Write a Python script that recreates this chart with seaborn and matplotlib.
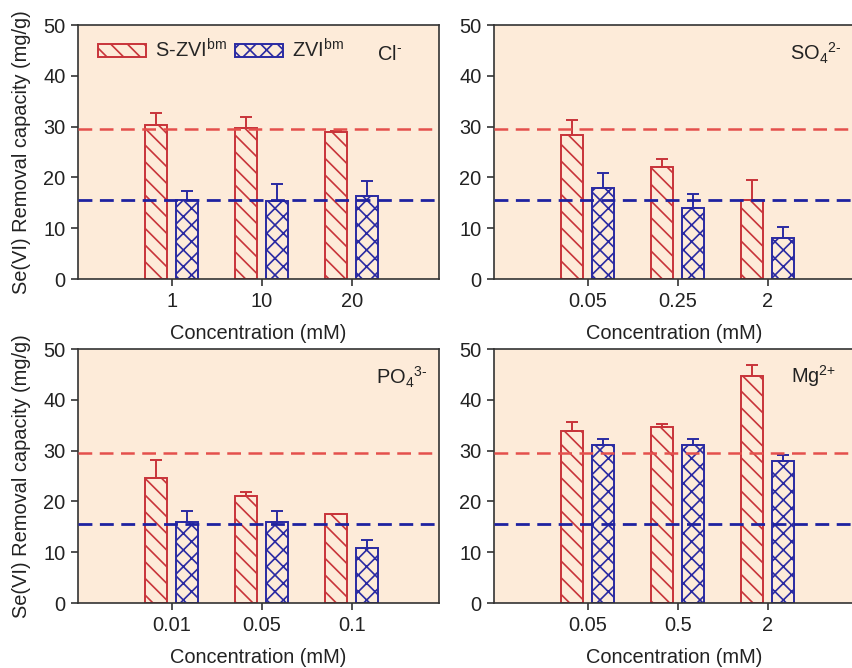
import numpy as np
import pandas as pd
import matplotlib
matplotlib.use("Agg")
from matplotlib import pyplot as plt
from matplotlib.patches import Patch
import seaborn as sns

# values
panel_ions = ["Cl$^{\\text{-}}$", "SO$_4$$^{2\\text{-}}$", "PO$_4$$^{3\\text{-}}$", "Mg$^{2\\text{+}}$"]
panel_concs = [["1", "10", "20"],
               ["0.05", "0.25", "2"],
               ["0.01", "0.05", "0.1"],
               ["0.05", "0.5", "2"]]
szvi_vals = [[30.3, 29.7, 28.9], [28.4, 22.0, 15.6], [24.7, 21.1, 17.5], [33.9, 34.7, 44.7]]
szvi_errs = [[2.3, 2.1, 0.3], [2.9, 1.7, 3.9], [3.4, 0.7, 0.1], [1.7, 0.6, 2.2]]
zvi_vals = [[15.6, 15.3, 16.4], [18.0, 14.0, 8.1], [15.9, 15.9, 10.8], [31.1, 31.1, 28.0]]
zvi_errs = [[1.7, 3.4, 2.8], [2.8, 2.8, 2.1], [2.3, 2.3, 1.7], [1.1, 1.1, 1.2]]
szvi_ref = 29.6
zvi_ref = 15.5
materials = ["S-ZVI$^{\\mathrm{bm}}$", "ZVI$^{\\mathrm{bm}}$"]

red = "#c8343a"
blue = "#2a2aa2"
red_dash = "#e4504c"
blue_dash = "#1e22a0"
bg = "#fdebd9"
fs = 14.4

sns.set_style("ticks")
plt.rcParams["font.family"] = ["Liberation Sans", "DejaVu Sans"]
plt.rcParams["mathtext.fontset"] = "custom"
plt.rcParams["mathtext.rm"] = "Liberation Sans"
plt.rcParams["mathtext.it"] = "Liberation Sans:italic"
plt.rcParams["hatch.linewidth"] = 1.2

fig = plt.figure(figsize=(8.52, 6.68), dpi=100)
boxes = [[0.0915, 0.5823, 0.4237, 0.3802],
         [0.5798, 0.5823, 0.4237, 0.3802],
         [0.0915, 0.0973, 0.4237, 0.3802],
         [0.5798, 0.0973, 0.4237, 0.3802]]
ion_pos = [(0.864, 0.885), (0.89, 0.89), (0.897, 0.89), (0.884, 0.895)]

for i in range(4):
    ax = fig.add_axes(boxes[i])
    ax.set_facecolor(bg)
    df = pd.DataFrame({
        "conc": panel_concs[i] * 2,
        "material": [materials[0]] * 3 + [materials[1]] * 3,
        "value": szvi_vals[i] + zvi_vals[i],
    })
    sns.barplot(data=df, x="conc", y="value", hue="material", order=panel_concs[i],
                hue_order=materials, palette=[red, blue], fill=False, width=0.68,
                gap=0.28, errorbar=None, legend=False, linewidth=1.4, ax=ax)
    hatches = ["\\\\", "xx"]
    colors = [red, blue]
    errs = [szvi_errs[i], zvi_errs[i]]
    vals = [szvi_vals[i], zvi_vals[i]]
    bar_groups = list(ax.containers)
    for k, cont in enumerate(bar_groups):
        xs = []
        for p in cont.patches:
            p.set_hatch(hatches[k])
            p.set_edgecolor(colors[k])
            p.set_facecolor("none")
            xs.append(p.get_x() + p.get_width() / 2)
        ax.errorbar(xs, vals[k], yerr=[np.zeros(3), errs[k]], fmt="none",
                    ecolor=colors[k], elinewidth=1.4, capsize=4.5, capthick=1.4, zorder=3)
    ax.axhline(szvi_ref, color=red_dash, lw=1.8, dashes=(5.5, 3), zorder=4)
    ax.axhline(zvi_ref, color=blue_dash, lw=2.0, dashes=(5, 2.7), zorder=4)

    ax.set_xlim(-1.04, 2.97)
    ax.set_ylim(0, 50)
    ax.set_yticks(range(0, 51, 10))
    for s in ax.spines.values():
        s.set_color("#333333")
        s.set_linewidth(1.2)
    ax.tick_params(axis="both", labelsize=fs, colors="#222222", length=5, width=1.1,
                   direction="out", pad=4)
    ax.set_xlabel("Concentration (mM)", fontsize=fs, labelpad=10, color="#222222")
    if i % 2 == 0:
        ax.set_ylabel("Se(VI) Removal capacity (mg/g)", fontsize=fs, labelpad=9, color="#222222")
    else:
        ax.set_ylabel("")
    ax.text(ion_pos[i][0], ion_pos[i][1], panel_ions[i], transform=ax.transAxes,
            fontsize=fs, ha="center", va="center", color="#222222")

    if i == 0:
        handles = [Patch(facecolor="none", edgecolor=red, hatch="\\\\", lw=1.4),
                   Patch(facecolor="none", edgecolor=blue, hatch="xx", lw=1.4)]
        ax.legend(handles, materials, loc="upper left", ncol=2, frameon=False,
                  fontsize=fs, handlelength=2.4, handleheight=0.65, handletextpad=0.45,
                  columnspacing=0.4, borderaxespad=0.25, bbox_to_anchor=(0.02, 1.0))

fig.savefig("out.png", dpi=100, facecolor="white")
